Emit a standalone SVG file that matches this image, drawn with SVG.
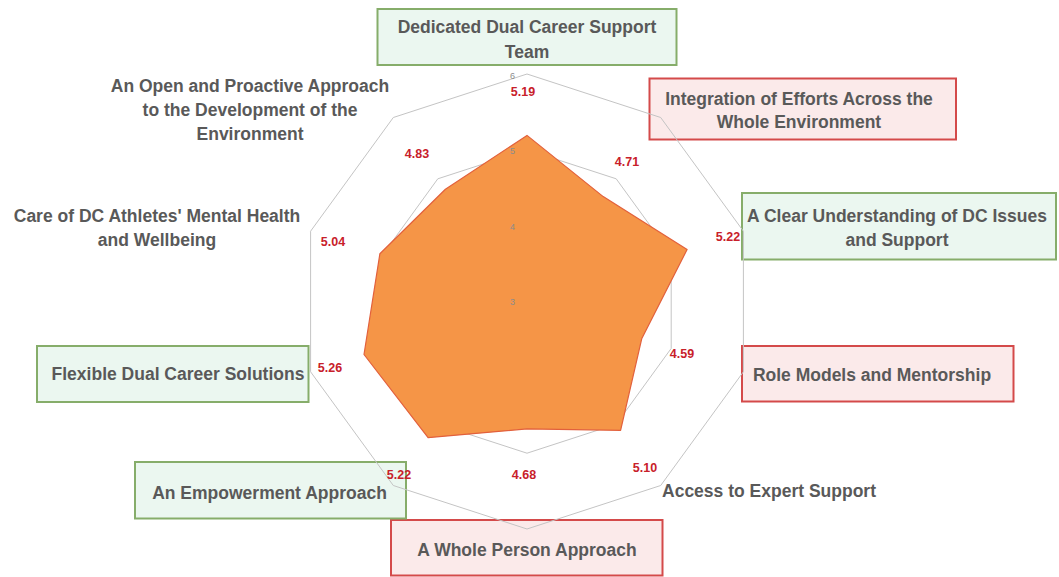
<svg xmlns="http://www.w3.org/2000/svg" width="1059" height="577" viewBox="0 0 1059 577">
<style>
.bg{fill:#ffffff}
.g{fill:#EBF7F0;stroke:#86AD6A;stroke-width:2}
.r{fill:#FBEAEA;stroke:#D44A4A;stroke-width:2}
.lbl{font-family:"Liberation Sans",Arial,sans-serif;font-weight:bold;font-size:17.5px;fill:#595959;text-anchor:middle}
.val{font-family:"Liberation Sans",Arial,sans-serif;font-weight:bold;font-size:12.5px;fill:#C8202A;text-anchor:middle}
.tick{font-family:"Liberation Sans",Arial,sans-serif;font-size:9px;fill:#8C8C8C;text-anchor:middle}
.grid{fill:none;stroke:#C4C4C4;stroke-width:1}
.data{fill:#F59547;stroke:#E2603C;stroke-width:1.2;stroke-linejoin:round}
</style>
<rect class="bg" x="0" y="0" width="1059" height="577"/>
<g id="nodes">
<g id="n1"><rect class="g" x="377.5" y="9" width="299" height="56"/><text class="lbl" x="527" y="33">Dedicated Dual Career Support</text><text class="lbl" x="527" y="58">Team</text></g>
<g id="n2"><rect class="r" x="649.5" y="78.5" width="306.5" height="61"/><text class="lbl" x="799" y="104.5">Integration of Efforts Across the</text><text class="lbl" x="799" y="128">Whole Environment</text></g>
<g id="n3"><rect class="g" x="742" y="193" width="314" height="66.5"/><text class="lbl" x="897" y="222">A Clear Understanding of DC Issues</text><text class="lbl" x="897" y="246">and Support</text></g>
<g id="n4"><rect class="r" x="742" y="346" width="271.5" height="55.5"/><text class="lbl" x="872" y="380.5">Role Models and Mentorship</text></g>
<g id="n5"><text class="lbl" x="769" y="497">Access to Expert Support</text></g>
<g id="n6"><rect class="r" x="391" y="520" width="271.5" height="55.5"/><text class="lbl" x="527" y="556">A Whole Person Approach</text></g>
<g id="n7"><rect class="g" x="135" y="462" width="271" height="56.5"/><text class="lbl" x="269.5" y="499">An Empowerment Approach</text></g>
<g id="n8"><rect class="g" x="37" y="346" width="271.5" height="56"/><text class="lbl" x="178" y="380">Flexible Dual Career Solutions</text></g>
<g id="n9"><text class="lbl" x="157" y="222">Care of DC Athletes' Mental Health</text><text class="lbl" x="157" y="246">and Wellbeing</text></g>
<g id="n10"><text class="lbl" x="250" y="92">An Open and Proactive Approach</text><text class="lbl" x="250" y="116">to the Development of the</text><text class="lbl" x="250" y="140">Environment</text></g>
</g>
<g id="connectors">
<polygon class="grid" points="527,74 660.7,117.5 743.4,231.2 743.4,371.8 660.7,485.5 527,529 393.3,485.5 310.6,371.8 310.6,231.2 393.3,117.5"/>
<polygon class="grid" points="527,149.8 616.2,178.8 671.2,254.6 671.2,348.4 616.2,424.2 527,453.2 437.8,424.2 382.8,348.4 382.8,254.6 437.8,178.8"/>
<polygon class="grid" points="527,225.7 571.6,240.2 599.1,278.1 599.1,324.9 571.6,362.8 527,377.3 482.4,362.8 454.9,324.9 454.9,278.1 482.4,240.2"/>
<polygon class="data" points="527,135.4 603.2,196.6 687.1,249.5 641.7,338.8 620.6,430.3 527,428.9 428.1,437.7 364,354.5 379.9,253.7 445.4,189.2"/>
</g>
<g id="ticks">
<text class="tick" x="512.5" y="79">6</text>
<text class="tick" x="512.5" y="153.5">5</text>
<text class="tick" x="512.5" y="230">4</text>
<text class="tick" x="512.5" y="305">3</text>
</g>
<g id="values">
<text class="val" x="523" y="95.5">5.19</text>
<text class="val" x="627" y="165.5">4.71</text>
<text class="val" x="728" y="240.5">5.22</text>
<text class="val" x="682" y="357.5">4.59</text>
<text class="val" x="645" y="471.5">5.10</text>
<text class="val" x="524" y="478.5">4.68</text>
<text class="val" x="399" y="478.5">5.22</text>
<text class="val" x="330" y="371.5">5.26</text>
<text class="val" x="333" y="245.5">5.04</text>
<text class="val" x="417" y="157.5">4.83</text>
</g>
</svg>
